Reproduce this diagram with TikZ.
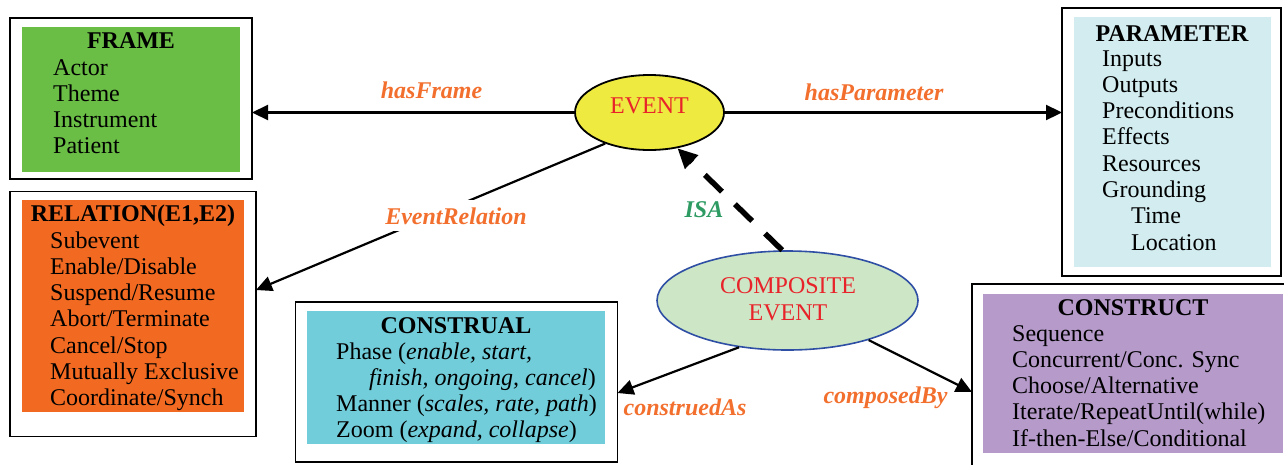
\documentclass[tikz,border=0pt]{standalone}
\usepackage{fontspec}
\setmainfont{Liberation Serif}
\usetikzlibrary{arrows.meta,shapes.geometric}
\definecolor{framegreen}{HTML}{6ABD45}
\definecolor{relorange}{HTML}{F26A21}
\definecolor{constrcyan}{HTML}{71CDDA}
\definecolor{paramcyan}{HTML}{D2ECF0}
\definecolor{constpurple}{HTML}{B59ACA}
\definecolor{eventyellow}{HTML}{EEEA40}
\definecolor{compgreen}{HTML}{CDE6C6}
\definecolor{compblue}{HTML}{2E4FA3}
\definecolor{lblorange}{HTML}{F26F2D}
\definecolor{isagreen}{HTML}{2E9B63}
\definecolor{evred}{HTML}{E8232A}
\begin{document}
\begin{tikzpicture}[x=1pt,y=-1pt,
  outerbox/.style={draw=black,line width=1.8pt,inner sep=0pt,outer sep=0pt},
  innerbox/.style={inner sep=0pt,outer sep=0pt},
  txt/.style={font=\fontsize{24}{26}\selectfont,inner sep=0pt,anchor=base west},
  ttl/.style={font=\fontsize{24}{26}\selectfont\bfseries,inner sep=0pt,anchor=base},
  lbl/.style={font=\fontsize{24}{26}\selectfont\bfseries\itshape,text=lblorange,inner sep=0pt,anchor=base},
  evtxt/.style={font=\fontsize{24}{26}\selectfont,text=evred,inner sep=0pt,anchor=base},
  conn/.style={line width=2.2pt,-{Triangle[length=16pt,width=15pt]}},
]
\useasboundingbox (0,0) rectangle (1284,464);

% ---------- FRAME ----------
\node[outerbox,minimum width=242pt,minimum height=161pt] (frame) at (131,98.5) {};
\node[innerbox,fill=framegreen,minimum width=218pt,minimum height=145pt] (frameIn) at (131,99.2) {};
\node[ttl] (frameT) at (131,48) {FRAME};
\foreach \t [count=\i] in {Actor,Theme,Instrument,Patient}
  \node[txt] (fr\i) at (53,{75+26.3*(\i-1)}) {\t};

% ---------- RELATION ----------
\node[outerbox,minimum width=246pt,minimum height=245pt] (relation) at (133,314) {};
\node[innerbox,fill=relorange,minimum width=222pt,minimum height=212pt] (relationIn) at (133,306.3) {};
\node[ttl] (relT) at (133,221.7) {RELATION(E1,E2)};
\foreach \t [count=\i] in {Subevent,Enable/Disable,Suspend/Resume,Abort/Terminate,Cancel/Stop,Mutually Exclusive,Coordinate/Synch}
  \node[txt] (re\i) at (50,{248+26.3*(\i-1)}) {\t};

% ---------- CONSTRUAL ----------
\node[outerbox,minimum width=322pt,minimum height=160pt] (construal) at (456.5,382) {};
\node[innerbox,fill=constrcyan,minimum width=298pt,minimum height=133pt] (construalIn) at (455.8,377.5) {};
\node[ttl] (cuT) at (456,333) {CONSTRUAL};
\node[txt] (cu1) at (336,359) {Phase (\textit{enable, start,}};
\node[txt] (cu2) at (369,385) {\textit{finish, ongoing, cancel})};
\node[txt] (cu3) at (336,411) {Manner (\textit{scales, rate, path})};
\node[txt] (cu4) at (336,437.5) {Zoom (\textit{expand, collapse})};

% ---------- CONSTRUCT ----------
\node[outerbox,minimum width=326pt,minimum height=192pt] (construct) at (1135,380) {};
\node[innerbox,fill=constpurple,minimum width=300pt,minimum height=159pt] (constructIn) at (1133,373.5) {};
\node[ttl] (coT) at (1133,315) {CONSTRUCT};
\foreach \t [count=\i] in {Sequence,Concurrent/Conc. Sync,Choose/Alternative,Iterate/RepeatUntil(while),If-then-Else/Conditional}
  \node[txt] (co\i) at (1012,{341+26.3*(\i-1)}) {\t};

% ---------- PARAMETER ----------
\node[outerbox,minimum width=219pt,minimum height=268pt] (parameter) at (1171.5,142) {};
\node[innerbox,fill=paramcyan,minimum width=197pt,minimum height=250pt] (parameterIn) at (1172.5,142) {};
\node[ttl] (paT) at (1172,41) {PARAMETER};
\foreach \t [count=\i] in {Inputs,Outputs,Preconditions,Effects,Resources,Grounding}
  \node[txt] (pa\i) at (1102,{66+26.3*(\i-1)}) {\t};
\node[txt] (pa7) at (1131,223.8) {Time};
\node[txt] (pa8) at (1131,250.1) {Location};

% ---------- ELLIPSES ----------
\node[ellipse,draw=black,line width=1.8pt,fill=eventyellow,minimum width=149pt,minimum height=75pt,inner sep=0pt] (event) at (649.5,112.5) {};
\node[evtxt] (evT) at (649.5,113) {EVENT};
\node[ellipse,draw=compblue,line width=1.6pt,fill=compgreen,minimum width=261pt,minimum height=99pt,inner sep=0pt] (comp) at (787.5,300.5) {};
\node[evtxt] (compT1) at (788,293) {COMPOSITE};
\node[evtxt] (compT2) at (788,320) {EVENT};

% ---------- CONNECTORS ----------
\draw[conn] (event.west) -- (event.west -| frame.east);
\node[lbl] (lHasFrame) at (431.5,98) {hasFrame};

\draw[conn] (event.east) -- (event.east -| parameter.west);
\node[lbl] (lHasParam) at (874,100) {hasParameter};

\draw[conn] (event.215) -- ([yshift=24pt]relation.east);
\node[lbl,fill=white,inner sep=7pt] (lEvRel) at (456,224) {EventRelation};

\draw[line width=5.5pt,dash pattern=on 24pt off 18pt,-{Triangle[length=20pt,width=18pt]}] (comp.96) -- (event.-52);
\node[lbl,text=isagreen] (lIsa) at (704,217) {ISA};

\draw[conn] (comp.224) -- ([yshift=-11pt]construal.east);
\node[lbl] (lConstrued) at (685,415) {construedAs};

\draw[conn] (comp.-26) -- ([yshift=-12pt]construct.west);
\node[lbl] (lComposed) at (885.5,403) {composedBy};
\end{tikzpicture}
\end{document}
